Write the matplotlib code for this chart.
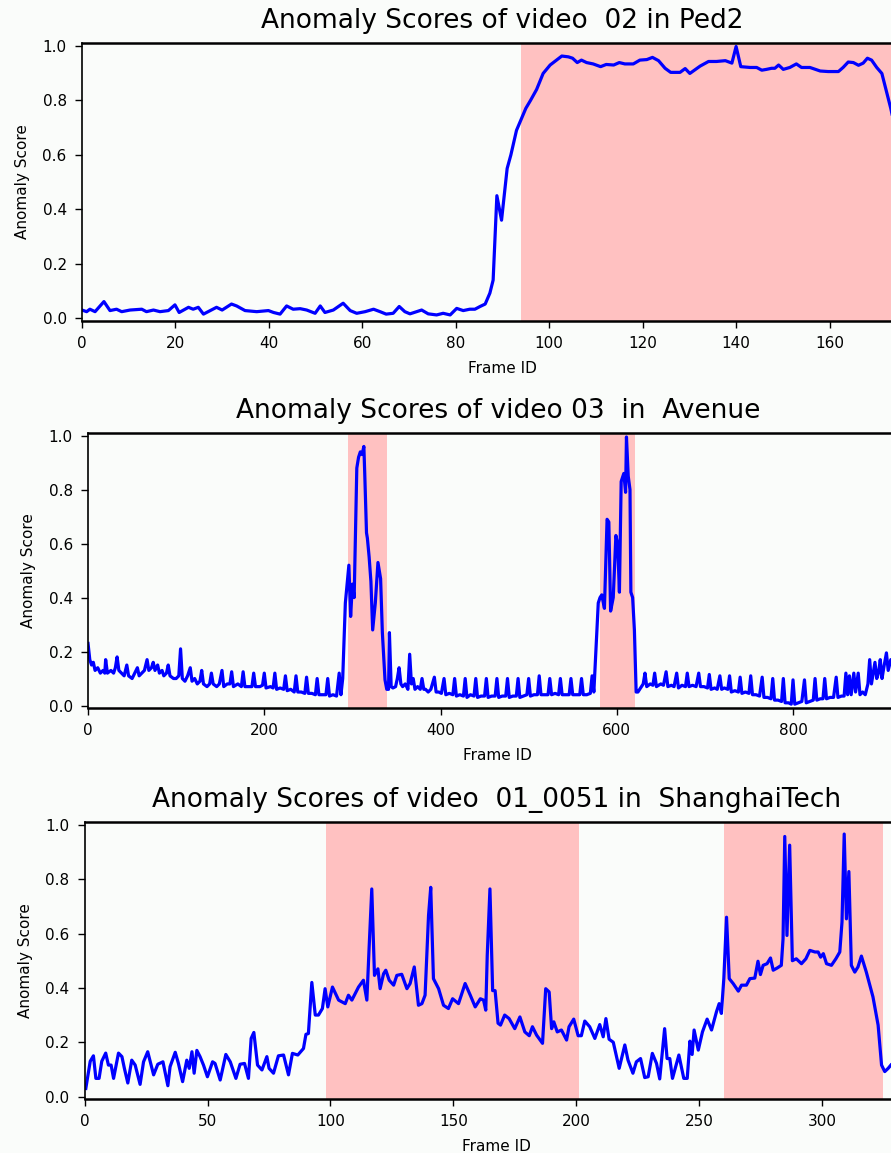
import matplotlib
matplotlib.use('Agg')
import matplotlib.pyplot as plt

# ---- Ped2 video 02 ----
ped2_frames = [0, 1, 1.7, 2.8, 4.7, 6, 7.4, 8.5, 10.3, 12.8, 13.8, 15.3, 16.7, 18.5, 19.9, 20.8,
               22.8, 23.8, 24.9, 26, 27, 28.8, 30, 32, 33.1, 34.9, 37.4, 39.9, 41, 42.4, 43.8,
               45.2, 46.7, 48.1, 49.9, 51, 52, 53.8, 55.9, 57.4, 58.8, 60.6, 62.4, 63.8, 65.1,
               66.6, 67.9, 69.1, 70.2, 71.6, 72.7, 74.1, 75.9, 77.3, 78.8, 80.2, 81.6, 83, 84.1,
               85.2, 86.3, 87.3, 88, 88.8, 89.8, 91, 91.8, 93, 95, 96, 97.3, 98.7, 100.2, 101.2,
               102.7, 104.1, 105, 106, 106.9, 108, 109.4, 111, 112.2, 113.8, 115, 116.2, 118,
               119.4, 120.9, 122.1, 123.4, 124.8, 126, 128, 129.1, 130.1, 132.3, 134.1, 135.8,
               137.7, 139.1, 140, 141, 143, 144.4, 145.5, 146.5, 147.6, 148.3, 149.1, 150.1,
               151.5, 152.9, 154, 155.8, 158, 159.7, 161.9, 162.9, 164, 165.1, 166.2, 167.2,
               168.1, 169, 170.1, 171.2, 172.2, 173.1, 174, 175]
ped2_scores = [0.030, 0.024, 0.033, 0.024, 0.061, 0.028, 0.033, 0.024, 0.030, 0.033, 0.024, 0.030,
               0.024, 0.028, 0.049, 0.021, 0.040, 0.033, 0.040, 0.015, 0.024, 0.040, 0.030, 0.052,
               0.045, 0.028, 0.024, 0.028, 0.021, 0.015, 0.045, 0.033, 0.035, 0.030, 0.018, 0.045,
               0.021, 0.030, 0.055, 0.028, 0.018, 0.024, 0.033, 0.024, 0.015, 0.018, 0.043, 0.024,
               0.016, 0.024, 0.030, 0.016, 0.012, 0.018, 0.012, 0.036, 0.028, 0.033, 0.033, 0.043,
               0.052, 0.092, 0.14, 0.45, 0.36, 0.55, 0.60, 0.69, 0.771, 0.80, 0.84, 0.899, 0.93,
               0.943, 0.963, 0.96, 0.955, 0.939, 0.948, 0.939, 0.934, 0.924, 0.932, 0.93, 0.939,
               0.934, 0.934, 0.948, 0.95, 0.958, 0.946, 0.918, 0.903, 0.903, 0.917, 0.899, 0.926,
               0.943, 0.943, 0.946, 0.937, 0.998, 0.924, 0.921, 0.921, 0.911, 0.914, 0.918, 0.918,
               0.930, 0.914, 0.921, 0.934, 0.921, 0.921, 0.908, 0.906, 0.906, 0.921, 0.941, 0.939,
               0.929, 0.937, 0.955, 0.948, 0.921, 0.899, 0.832, 0.771, 0.70, 0.62]
ped2_anomalies = [(94, 180)]

# ---- Avenue video 03 ----
avenue_frames = [0, 2, 4, 6, 8, 11, 14, 17, 19, 20, 22, 26, 29, 31, 33, 35, 38, 41, 44, 46, 50, 53,
                 56, 58, 61, 64, 67, 69, 72, 74, 76, 79, 81, 84, 86, 89, 91, 93, 97, 100, 103, 105,
                 107, 110, 113, 116, 118, 121, 124, 127, 129, 131, 135, 138, 140, 142, 146, 149,
                 152, 154, 158, 161, 163, 165, 170, 174, 176, 178, 182, 186, 188, 190, 195, 198,
                 200, 202, 207, 210, 212, 214, 218, 222, 224, 226, 230, 234, 236, 238, 242, 246,
                 248, 250, 254, 258, 260, 262, 266, 270, 272, 274, 278, 282, 285, 287, 289, 292,
                 294, 296, 298, 300, 302, 305, 307, 309, 311, 313, 314, 316, 317, 319, 321, 323,
                 326, 329, 330, 332, 334, 337, 339, 341, 342, 344, 346, 349, 351, 353, 355, 357,
                 360, 363, 365, 367, 369, 371, 374, 377, 379, 381, 383, 386, 389, 393, 395, 398,
                 401, 404, 406, 410, 414, 416, 418, 422, 426, 428, 430, 434, 438, 440, 442, 446,
                 450, 452, 454, 458, 462, 464, 466, 470, 474, 476, 478, 482, 486, 488, 490, 494,
                 498, 500, 502, 506, 510, 512, 514, 518, 522, 524, 526, 530, 534, 536, 538, 542,
                 546, 548, 550, 554, 558, 560, 562, 566, 570, 572, 574, 577, 579, 581, 583, 586,
                 589, 591, 593, 596, 599, 601, 603, 605, 608, 610, 611, 613, 615, 616, 618, 620,
                 622, 624, 628, 630, 632, 634, 638, 641, 643, 645, 650, 653, 656, 658, 662, 665,
                 668, 670, 674, 678, 680, 682, 686, 690, 693, 695, 699, 703, 705, 707, 711, 714,
                 717, 719, 722, 726, 728, 730, 734, 738, 740, 742, 746, 750, 752, 754, 758, 762,
                 765, 767, 771, 775, 777, 779, 783, 787, 789, 791, 795, 798, 800, 802, 806, 810,
                 813, 815, 819, 823, 825, 827, 831, 834, 836, 838, 842, 846, 849, 851, 855, 858,
                 860, 862, 864, 866, 869, 871, 874, 876, 879, 882, 885, 887, 889, 891, 893, 895,
                 897, 899, 901, 903, 906, 908, 911, 914]
avenue_scores = [0.23, 0.17, 0.15, 0.16, 0.13, 0.14, 0.12, 0.13, 0.12, 0.17, 0.12, 0.13, 0.12, 0.14,
                 0.18, 0.13, 0.12, 0.11, 0.15, 0.11, 0.10, 0.12, 0.14, 0.11, 0.12, 0.13, 0.17, 0.13,
                 0.14, 0.16, 0.13, 0.15, 0.12, 0.13, 0.11, 0.12, 0.15, 0.11, 0.10, 0.10, 0.11, 0.21,
                 0.10, 0.09, 0.11, 0.14, 0.09, 0.10, 0.08, 0.09, 0.13, 0.08, 0.07, 0.08, 0.12, 0.08,
                 0.07, 0.08, 0.13, 0.07, 0.08, 0.08, 0.125, 0.07, 0.08, 0.07, 0.125, 0.07, 0.07,
                 0.07, 0.12, 0.07, 0.07, 0.075, 0.12, 0.065, 0.07, 0.065, 0.12, 0.06, 0.065, 0.06,
                 0.11, 0.055, 0.06, 0.05, 0.11, 0.05, 0.05, 0.045, 0.105, 0.045, 0.045, 0.04, 0.10,
                 0.04, 0.04, 0.04, 0.10, 0.035, 0.04, 0.035, 0.12, 0.04, 0.10, 0.38, 0.45, 0.52,
                 0.33, 0.45, 0.40, 0.88, 0.92, 0.94, 0.93, 0.96, 0.86, 0.64, 0.62, 0.55, 0.46, 0.28,
                 0.38, 0.53, 0.51, 0.47, 0.27, 0.095, 0.06, 0.06, 0.27, 0.07, 0.065, 0.07, 0.10,
                 0.14, 0.08, 0.07, 0.08, 0.06, 0.19, 0.08, 0.10, 0.06, 0.07, 0.06, 0.10, 0.06, 0.06,
                 0.05, 0.06, 0.105, 0.05, 0.05, 0.045, 0.10, 0.04, 0.045, 0.04, 0.10, 0.035, 0.04,
                 0.035, 0.10, 0.03, 0.04, 0.035, 0.10, 0.03, 0.035, 0.035, 0.10, 0.03, 0.035, 0.035,
                 0.10, 0.03, 0.035, 0.035, 0.10, 0.03, 0.035, 0.035, 0.10, 0.03, 0.035, 0.04, 0.10,
                 0.035, 0.04, 0.04, 0.11, 0.04, 0.04, 0.04, 0.10, 0.04, 0.045, 0.04, 0.10, 0.04,
                 0.04, 0.04, 0.10, 0.04, 0.04, 0.04, 0.10, 0.04, 0.04, 0.045, 0.11, 0.05, 0.25, 0.38,
                 0.40, 0.41, 0.36, 0.69, 0.68, 0.35, 0.40, 0.63, 0.60, 0.42, 0.83, 0.86, 0.79, 0.995,
                 0.85, 0.80, 0.42, 0.40, 0.28, 0.05, 0.05, 0.07, 0.08, 0.12, 0.07, 0.08, 0.075, 0.12,
                 0.07, 0.08, 0.075, 0.125, 0.07, 0.075, 0.07, 0.12, 0.065, 0.075, 0.07, 0.12, 0.07,
                 0.075, 0.07, 0.12, 0.07, 0.07, 0.065, 0.115, 0.06, 0.065, 0.06, 0.11, 0.06, 0.065,
                 0.06, 0.11, 0.05, 0.055, 0.05, 0.105, 0.045, 0.05, 0.045, 0.11, 0.04, 0.04, 0.035,
                 0.105, 0.03, 0.03, 0.025, 0.10, 0.02, 0.02, 0.015, 0.10, 0.01, 0.01, 0.005, 0.095,
                 0.005, 0.01, 0.015, 0.095, 0.01, 0.015, 0.02, 0.10, 0.02, 0.025, 0.025, 0.10, 0.025,
                 0.03, 0.03, 0.105, 0.03, 0.035, 0.035, 0.12, 0.04, 0.11, 0.04, 0.12, 0.05, 0.12,
                 0.04, 0.05, 0.04, 0.08, 0.17, 0.08, 0.12, 0.16, 0.10, 0.12, 0.17, 0.10, 0.14, 0.195,
                 0.13, 0.17, 0.15]
avenue_anomalies = [(295, 339), (581, 621)]

# ---- ShanghaiTech video 01_0051 ----
sh_frames = [0.4, 2.2, 3.5, 4.5, 5.8, 6.9, 8.5, 9.6, 10.7, 11.7, 13.7, 15.1, 16.1, 17.5, 19.1, 20.5,
             22.5, 23.9, 25.6, 28, 29.7, 31.8, 33.8, 34.7, 36.8, 38.1, 39.8, 41.5, 42.5, 43.6, 44.5,
             45.6, 46.9, 48.3, 49.9, 52, 53, 55.1, 57.4, 59.2, 61.5, 63.2, 65, 66.6, 67.7, 68.8,
             70.3, 72.1, 74.1, 75, 76.8, 78.8, 80.9, 82.9, 84.5, 86.7, 89, 90, 91, 92.4, 93.8, 95.1,
             96.7, 97.8, 98.9, 100.8, 103.3, 106, 107.3, 108.7, 111.4, 113.4, 114.8, 115.7, 116.8,
             117.9, 119.3, 120.2, 121.6, 122.5, 123.9, 125.7, 127, 129, 131.1, 132.4, 134.1, 135.8,
             137.2, 138.5, 139.9, 140.8, 141.9, 144, 146, 148, 149.7, 152.1, 154.8, 156.9, 158.9,
             161, 162.3, 163.2, 163.8, 164.9, 166, 167, 168.2, 169.2, 170.9, 172.7, 175, 177.1,
             179.1, 180.9, 182.2, 183.9, 186.3, 187.6, 189, 190, 190.9, 192.3, 194, 196.1, 197.1,
             199, 200.8, 202.1, 203.5, 205.5, 207.6, 209.6, 211, 212.1, 213.4, 215.1, 217.5, 219.8,
             221.1, 223.1, 224.5, 226.2, 227.9, 229.3, 231, 232.7, 234, 236, 237, 238.1, 239.2,
             241.8, 243.8, 245.2, 246.3, 247.2, 248, 249.7, 251.4, 253.3, 255.1, 257.1, 258.2,
             259.1, 260.1, 261.2, 262.3, 263.9, 266, 267.3, 269.3, 270.7, 272.7, 274, 275, 276.1,
             277.7, 279.1, 280.2, 281.8, 283.5, 284.2, 284.9, 285.8, 286.9, 288, 289.6, 291.7,
             293.5, 295.1, 297.2, 298.5, 299.5, 300.6, 301.9, 303.9, 305.7, 307.3, 308.2, 309.1,
             310, 311, 312, 313.4, 314.7, 316.1, 318.1, 320.8, 322.9, 324.3, 325.6, 327, 328.1]
sh_scores = [0.03, 0.13, 0.15, 0.067, 0.067, 0.13, 0.16, 0.116, 0.116, 0.067, 0.16, 0.147, 0.104,
             0.05, 0.134, 0.116, 0.045, 0.128, 0.165, 0.08, 0.119, 0.128, 0.04, 0.11, 0.163, 0.122,
             0.055, 0.134, 0.104, 0.165, 0.086, 0.17, 0.147, 0.116, 0.073, 0.128, 0.122, 0.061,
             0.155, 0.128, 0.067, 0.119, 0.122, 0.067, 0.214, 0.236, 0.116, 0.098, 0.147, 0.104,
             0.086, 0.150, 0.153, 0.08, 0.159, 0.153, 0.177, 0.229, 0.232, 0.42, 0.30, 0.30, 0.324,
             0.397, 0.33, 0.403, 0.355, 0.342, 0.373, 0.355, 0.403, 0.428, 0.355, 0.544, 0.764,
             0.446, 0.47, 0.397, 0.452, 0.465, 0.428, 0.41, 0.446, 0.45, 0.397, 0.416, 0.477, 0.336,
             0.342, 0.373, 0.666, 0.77, 0.434, 0.397, 0.336, 0.324, 0.36, 0.342, 0.416, 0.373, 0.33,
             0.36, 0.355, 0.318, 0.52, 0.764, 0.39, 0.39, 0.27, 0.263, 0.30, 0.287, 0.25, 0.293,
             0.238, 0.224, 0.257, 0.226, 0.196, 0.397, 0.385, 0.25, 0.275, 0.238, 0.245, 0.208,
             0.257, 0.285, 0.224, 0.224, 0.278, 0.257, 0.214, 0.265, 0.22, 0.287, 0.211, 0.20, 0.104,
             0.19, 0.134, 0.086, 0.128, 0.14, 0.07, 0.073, 0.159, 0.122, 0.065, 0.25, 0.14, 0.14,
             0.067, 0.153, 0.067, 0.067, 0.204, 0.155, 0.245, 0.171, 0.238, 0.285, 0.245, 0.312,
             0.342, 0.306, 0.434, 0.66, 0.434, 0.416, 0.388, 0.41, 0.41, 0.434, 0.436, 0.498, 0.449,
             0.483, 0.489, 0.51, 0.465, 0.473, 0.483, 0.58, 0.957, 0.593, 0.925, 0.50, 0.507, 0.489,
             0.507, 0.538, 0.532, 0.532, 0.513, 0.526, 0.489, 0.483, 0.507, 0.532, 0.642, 0.966,
             0.654, 0.828, 0.483, 0.458, 0.477, 0.517, 0.458, 0.367, 0.263, 0.116, 0.092, 0.104,
             0.116]
sh_anomalies = [(98, 201), (260, 325)]

panels = [
    ('Anomaly Scores of video  02 in Ped2', ped2_frames, ped2_scores, ped2_anomalies,
     range(0, 161, 20), 180, [0.0920, 0.7219, 0.9439, 0.2406]),
    ('Anomaly Scores of video 03  in  Avenue', avenue_frames, avenue_scores, avenue_anomalies,
     range(0, 801, 200), 930, [0.0988, 0.3860, 0.9198, 0.2385]),
    ('Anomaly Scores of video  01_0051 in  ShanghaiTech', sh_frames, sh_scores, sh_anomalies,
     range(0, 301, 50), 335, [0.0952, 0.0468, 0.9237, 0.2402]),
]

bg = '#fafcfa'
narrow = ['Liberation Sans Narrow', 'DejaVu Sans']

fig = plt.figure(figsize=(8.91, 11.53), dpi=100, facecolor=bg)

for title, frames, scores, anomalies, xticks, xmax, rect in panels:
    ax = fig.add_axes(rect)
    ax.set_facecolor(bg)
    # ground-truth anomaly intervals
    for start, end in anomalies:
        ax.axvspan(start, end, color='#ffc1c1', lw=0)
    ax.plot(frames, scores, color='#0000ff', lw=2.3)
    ax.set_xlim(0, xmax)
    ax.set_ylim(-0.009, 1.01)
    ax.set_xticks(list(xticks))
    ax.set_yticks([0.0, 0.2, 0.4, 0.6, 0.8, 1.0])
    ax.set_yticklabels(['0.0', '0.2', '0.4', '0.6', '0.8', '1.0'])
    for lab in ax.get_xticklabels() + ax.get_yticklabels():
        lab.set_family(narrow)
        lab.set_fontsize(11)
    ax.tick_params(length=5, width=1, pad=6)
    for side in ['top', 'bottom']:
        ax.spines[side].set_linewidth(1.8)
    ax.spines['left'].set_linewidth(1.2)
    ax.set_title(title, family=narrow, fontsize=19, pad=11)
    ax.set_xlabel('Frame ID', family=narrow, fontsize=11, labelpad=7)
    ax.set_ylabel('Anomaly Score', fontsize=11, labelpad=9)

fig.savefig('out.png', dpi=100, facecolor=bg)
